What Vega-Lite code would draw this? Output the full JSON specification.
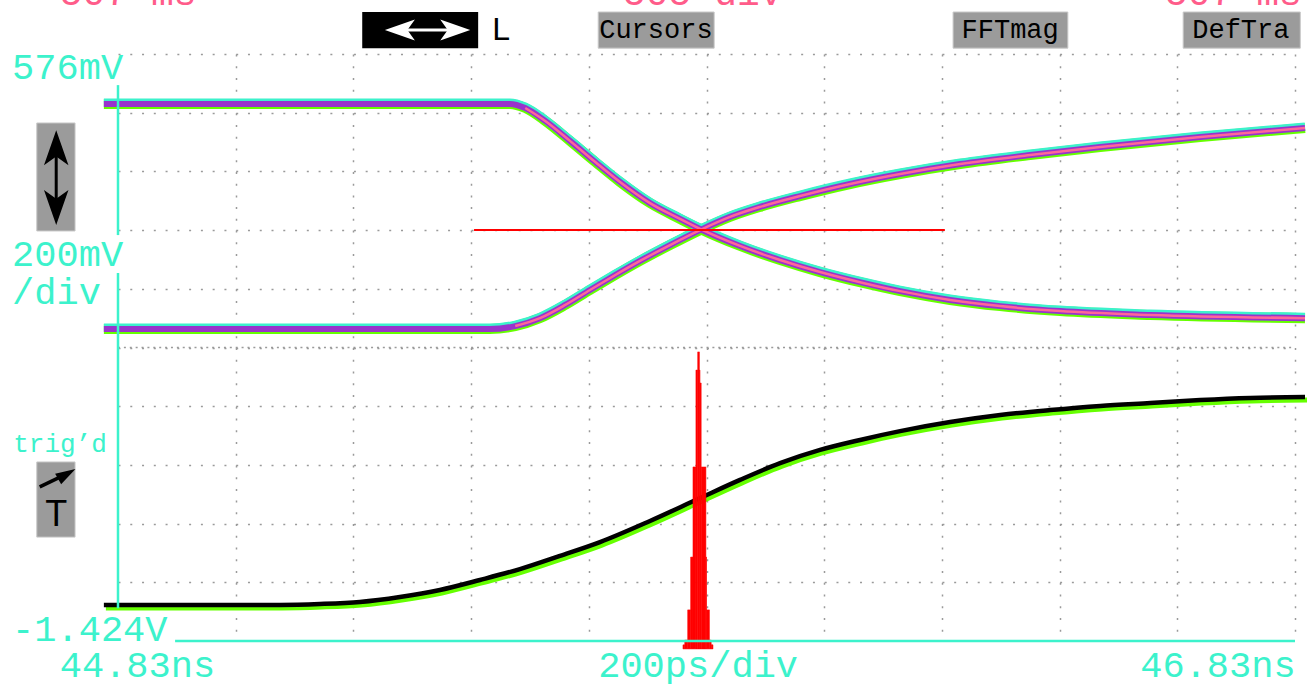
{
"$schema":"https://vega.github.io/schema/vega-lite/v6.json",
"width":1177,"height":587,
"autosize":{"type":"none"},
"padding":{"left":118,"top":54,"right":13,"bottom":43},
"background":"#ffffff",
"config":{"view":{"stroke":null}},
"datasets":{
"traces":[
{"trace":"fall","t":44.806,"v":0.406},{"trace":"fall","t":45.139,"v":0.406},{"trace":"fall","t":45.496,"v":0.406},{"trace":"fall","t":45.522,"v":0.392},{"trace":"fall","t":45.556,"v":0.348},{"trace":"fall","t":45.598,"v":0.280},{"trace":"fall","t":45.641,"v":0.208},{"trace":"fall","t":45.683,"v":0.140},{"trace":"fall","t":45.734,"v":0.068},{"trace":"fall","t":45.785,"v":0.014},{"trace":"fall","t":45.819,"v":-0.020},{"trace":"fall","t":45.887,"v":-0.078},{"trace":"fall","t":45.955,"v":-0.126},{"trace":"fall","t":46.023,"v":-0.167},{"trace":"fall","t":46.096,"v":-0.204},{"trace":"fall","t":46.159,"v":-0.232},{"trace":"fall","t":46.244,"v":-0.262},{"trace":"fall","t":46.329,"v":-0.283},{"trace":"fall","t":46.431,"v":-0.300},{"trace":"fall","t":46.584,"v":-0.313},{"trace":"fall","t":46.847,"v":-0.324},
{"trace":"rise","t":44.806,"v":-0.361},{"trace":"rise","t":45.139,"v":-0.361},{"trace":"rise","t":45.462,"v":-0.361},{"trace":"rise","t":45.505,"v":-0.351},{"trace":"rise","t":45.547,"v":-0.324},{"trace":"rise","t":45.590,"v":-0.279},{"trace":"rise","t":45.632,"v":-0.228},{"trace":"rise","t":45.675,"v":-0.177},{"trace":"rise","t":45.717,"v":-0.129},{"trace":"rise","t":45.768,"v":-0.075},{"trace":"rise","t":45.819,"v":-0.024},{"trace":"rise","t":45.870,"v":0.021},{"trace":"rise","t":45.921,"v":0.055},{"trace":"rise","t":45.989,"v":0.092},{"trace":"rise","t":46.074,"v":0.133},{"trace":"rise","t":46.159,"v":0.167},{"trace":"rise","t":46.261,"v":0.201},{"trace":"rise","t":46.380,"v":0.232},{"trace":"rise","t":46.499,"v":0.259},{"trace":"rise","t":46.669,"v":0.293},{"trace":"rise","t":46.847,"v":0.324},
{"trace":"clk","t":44.806,"v":-1.301},{"trace":"clk","t":45.105,"v":-1.301},{"trace":"clk","t":45.173,"v":-1.298},{"trace":"clk","t":45.241,"v":-1.291},{"trace":"clk","t":45.309,"v":-1.274},{"trace":"clk","t":45.377,"v":-1.250},{"trace":"clk","t":45.445,"v":-1.216},{"trace":"clk","t":45.513,"v":-1.179},{"trace":"clk","t":45.581,"v":-1.134},{"trace":"clk","t":45.649,"v":-1.087},{"trace":"clk","t":45.734,"v":-1.015},{"trace":"clk","t":45.819,"v":-0.937},{"trace":"clk","t":45.887,"v":-0.875},{"trace":"clk","t":45.955,"v":-0.818},{"trace":"clk","t":46.023,"v":-0.773},{"trace":"clk","t":46.091,"v":-0.739},{"trace":"clk","t":46.159,"v":-0.709},{"trace":"clk","t":46.244,"v":-0.678},{"trace":"clk","t":46.329,"v":-0.654},{"trace":"clk","t":46.414,"v":-0.637},{"trace":"clk","t":46.499,"v":-0.623},{"trace":"clk","t":46.584,"v":-0.613},{"trace":"clk","t":46.669,"v":-0.603},{"trace":"clk","t":46.754,"v":-0.596},{"trace":"clk","t":46.847,"v":-0.593}
],
"hist":[
{"t":45.790,"t2":45.793,"v":-1.437},{"t":45.793,"t2":45.798,"v":-1.421},{"t":45.798,"t2":45.803,"v":-1.318},{"t":45.803,"t2":45.807,"v":-1.138},{"t":45.807,"t2":45.812,"v":-0.831},{"t":45.812,"t2":45.815,"v":-0.501},{"t":45.815,"t2":45.818,"v":-0.439},{"t":45.818,"t2":45.819,"v":-0.501},{"t":45.819,"t2":45.821,"v":-0.545},{"t":45.821,"t2":45.829,"v":-0.831},{"t":45.829,"t2":45.830,"v":-1.138},{"t":45.830,"t2":45.835,"v":-1.318},{"t":45.835,"t2":45.838,"v":-1.421},{"t":45.838,"t2":45.841,"v":-1.437}
],
"cursor":[{"t":45.435,"t2":46.235,"v":-0.024}],
"center":[{"t":44.83,"t2":46.83,"v":-0.424}],
"vaxis":[{"t":44.83,"v":0.470,"v2":-0.041},{"t":44.83,"v":-0.170,"v2":-1.312}],
"haxis":[{"t":44.927,"t2":46.83,"v":-1.424}],
"grayboxes":[{"t":45.646,"t2":45.843,"v":0.719,"v2":0.596},{"t":46.249,"t2":46.444,"v":0.719,"v2":0.596},{"t":46.640,"t2":46.839,"v":0.719,"v2":0.596},{"t":44.692,"t2":44.757,"v":0.341,"v2":-0.027},{"t":44.692,"t2":44.757,"v":-0.814,"v2":-1.070}],
"blackbox":[{"t":45.245,"t2":45.442,"v":0.719,"v2":0.596}],
"buttonText":[{"label":"Cursors","t":45.744,"v":0.658},{"label":"FFTmag","t":46.346,"v":0.658},{"label":"DefTra","t":46.738,"v":0.658}],
"plainText":[{"label":"L","t":45.481,"v":0.658}],
"cyanText":[{"label":"576mV","t":44.650,"v":0.528},{"label":"200mV","t":44.650,"v":-0.109},{"label":"/div","t":44.650,"v":-0.238},{"label":"-1.424V","t":44.650,"v":-1.386}],
"cyanBottom":[{"label":"44.83ns","t":44.731,"v":-1.509},{"label":"200ps/div","t":45.646,"v":-1.509},{"label":"46.83ns","t":46.567,"v":-1.509}],
"trigText":[{"label":"trig’d","t":44.652,"v":-0.753}],
"pinkText":[{"label":"507 ms","t":44.731,"v":0.743},{"label":"505 div","t":45.688,"v":0.743},{"label":"507 ms","t":46.609,"v":0.743}],
"hArrow":[{"t":45.301,"t2":45.412,"v":0.658}],
"hHeadL":[{"t":45.309,"v":0.658}],
"hHeadR":[{"t":45.403,"v":0.658}],
"vArrow":[{"t":44.725,"v":0.283,"v2":0.027}],
"vHeadU":[{"t":44.725,"v":0.257}],
"vHeadD":[{"t":44.725,"v":0.053}],
"tArrow":[{"t":44.697,"v":-0.899,"t2":44.735,"v2":-0.862}],
"tHead":[{"t":44.743,"v":-0.855}],
"tLetter":[{"label":"T","t":44.725,"v":-0.995}]
},
"encoding":{
"x":{"field":"t","type":"quantitative","scale":{"domain":[44.83,46.83],"nice":false,"zero":false},
"axis":{"grid":true,"values":[45.03,45.23,45.43,45.63,45.83,46.03,46.23,46.43,46.63,46.83],"gridDash":[2,9.74],"gridColor":"#9a9a9a","gridWidth":1.5,"labels":false,"ticks":false,"domain":false,"title":null}},
"y":{"field":"v","type":"quantitative","scale":{"domain":[-1.424,0.576],"nice":false,"zero":false},
"axis":{"grid":true,"values":[-1.224,-1.024,-0.824,-0.624,-0.424,-0.224,-0.024,0.176,0.376,0.576],"gridDash":[2,9.77],"gridColor":"#9a9a9a","gridWidth":1.5,"labels":false,"ticks":false,"domain":false,"title":null}}
},
"layer":[
{"data":{"name":"center"},"mark":{"type":"rule","stroke":"#9a9a9a","strokeWidth":1.5,"strokeDash":[2,3.885]},"encoding":{"x2":{"field":"t2"}}},
{"data":{"name":"traces"},"transform":[{"filter":"datum.trace != 'clk'"}],"mark":{"type":"line","stroke":"#66ff00","strokeWidth":10,"interpolate":"monotone"},"encoding":{"detail":{"field":"trace"}}},
{"data":{"name":"traces"},"transform":[{"filter":"datum.trace != 'clk'"}],"mark":{"type":"line","stroke":"#3cf2cc","strokeWidth":8,"yOffset":-1.5,"interpolate":"monotone"},"encoding":{"detail":{"field":"trace"}}},
{"data":{"name":"traces"},"transform":[{"filter":"datum.trace != 'clk'"}],"mark":{"type":"line","stroke":"#9933cc","strokeWidth":6,"interpolate":"monotone"},"encoding":{"detail":{"field":"trace"}}},
{"data":{"name":"traces"},"transform":[{"filter":"datum.trace != 'clk' && datum.t >= 45.5"}],"mark":{"type":"line","stroke":"#ff6699","strokeWidth":2.5,"interpolate":"monotone"},"encoding":{"detail":{"field":"trace"}}},
{"data":{"name":"traces"},"transform":[{"filter":"datum.trace == 'clk'"}],"mark":{"type":"line","stroke":"#66ff00","strokeWidth":5,"xOffset":2,"yOffset":3,"interpolate":"monotone"},"encoding":{}},
{"data":{"name":"traces"},"transform":[{"filter":"datum.trace == 'clk'"}],"mark":{"type":"line","stroke":"#000000","strokeWidth":4.5,"interpolate":"monotone"},"encoding":{}},
{"data":{"name":"cursor"},"mark":{"type":"rule","stroke":"#ff0000","strokeWidth":2},"encoding":{"x2":{"field":"t2"}}},
{"data":{"name":"hist"},"mark":{"type":"rect","fill":"#ff0000","stroke":"#ff0000","strokeWidth":0.5},"encoding":{"x2":{"field":"t2"},"y2":{"datum":-1.451}}},
{"data":{"name":"vaxis"},"mark":{"type":"rule","stroke":"#3cf2cc","strokeWidth":2.5},"encoding":{"y2":{"field":"v2"}}},
{"data":{"name":"haxis"},"mark":{"type":"rule","stroke":"#3cf2cc","strokeWidth":2.5},"encoding":{"x2":{"field":"t2"}}},
{"data":{"name":"grayboxes"},"mark":{"type":"rect","fill":"#9b9b9b","stroke":"#c8c8c8","strokeWidth":1},"encoding":{"x2":{"field":"t2"},"y2":{"field":"v2"}}},
{"data":{"name":"blackbox"},"mark":{"type":"rect","fill":"#000000"},"encoding":{"x2":{"field":"t2"},"y2":{"field":"v2"}}},
{"data":{"name":"buttonText"},"mark":{"type":"text","font":"Liberation Mono","fontSize":27,"color":"#000000","align":"center","baseline":"middle"},"encoding":{"text":{"field":"label"}}},
{"data":{"name":"plainText"},"mark":{"type":"text","font":"Liberation Sans","fontSize":32,"color":"#000000","align":"center","baseline":"middle"},"encoding":{"text":{"field":"label"}}},
{"data":{"name":"cyanText"},"mark":{"type":"text","font":"Liberation Mono","fontSize":37,"color":"#3cf2cc","align":"left","baseline":"middle"},"encoding":{"text":{"field":"label"}}},
{"data":{"name":"cyanBottom"},"mark":{"type":"text","font":"Liberation Mono","fontSize":37,"color":"#3cf2cc","align":"left","baseline":"middle"},"encoding":{"text":{"field":"label"}}},
{"data":{"name":"trigText"},"mark":{"type":"text","font":"Liberation Mono","fontSize":26,"color":"#3cf2cc","align":"left","baseline":"middle"},"encoding":{"text":{"field":"label"}}},
{"data":{"name":"pinkText"},"mark":{"type":"text","font":"Liberation Mono","fontSize":38,"color":"#ff5c8a","align":"left","baseline":"alphabetic"},"encoding":{"text":{"field":"label"}}},
{"data":{"name":"hArrow"},"mark":{"type":"rule","stroke":"#ffffff","strokeWidth":3},"encoding":{"x2":{"field":"t2"}}},
{"data":{"name":"hHeadL"},"mark":{"type":"point","shape":"M-1,0L1,-0.7L0.5,0L1,0.7Z","size":900,"filled":true,"color":"#ffffff","opacity":1},"encoding":{}},
{"data":{"name":"hHeadR"},"mark":{"type":"point","shape":"M1,0L-1,-0.7L-0.5,0L-1,0.7Z","size":900,"filled":true,"color":"#ffffff","opacity":1},"encoding":{}},
{"data":{"name":"vArrow"},"mark":{"type":"rule","stroke":"#000000","strokeWidth":3},"encoding":{"y2":{"field":"v2"}}},
{"data":{"name":"vHeadU"},"mark":{"type":"point","shape":"M0,-1L0.7,1L0,0.5L-0.7,1Z","size":1225,"filled":true,"color":"#000000","opacity":1},"encoding":{}},
{"data":{"name":"vHeadD"},"mark":{"type":"point","shape":"M0,1L0.7,-1L0,-0.5L-0.7,-1Z","size":1225,"filled":true,"color":"#000000","opacity":1},"encoding":{}},
{"data":{"name":"tArrow"},"mark":{"type":"rule","stroke":"#000000","strokeWidth":3.5},"encoding":{"x2":{"field":"t2"},"y2":{"field":"v2"}}},
{"data":{"name":"tHead"},"mark":{"type":"point","shape":"M0,-1L0.6,1L-0.6,1Z","size":400,"angle":60,"filled":true,"color":"#000000","opacity":1},"encoding":{}},
{"data":{"name":"tLetter"},"mark":{"type":"text","font":"Liberation Sans","fontSize":36,"color":"#000000","align":"center","baseline":"middle"},"encoding":{"text":{"field":"label"}}}
]
}
